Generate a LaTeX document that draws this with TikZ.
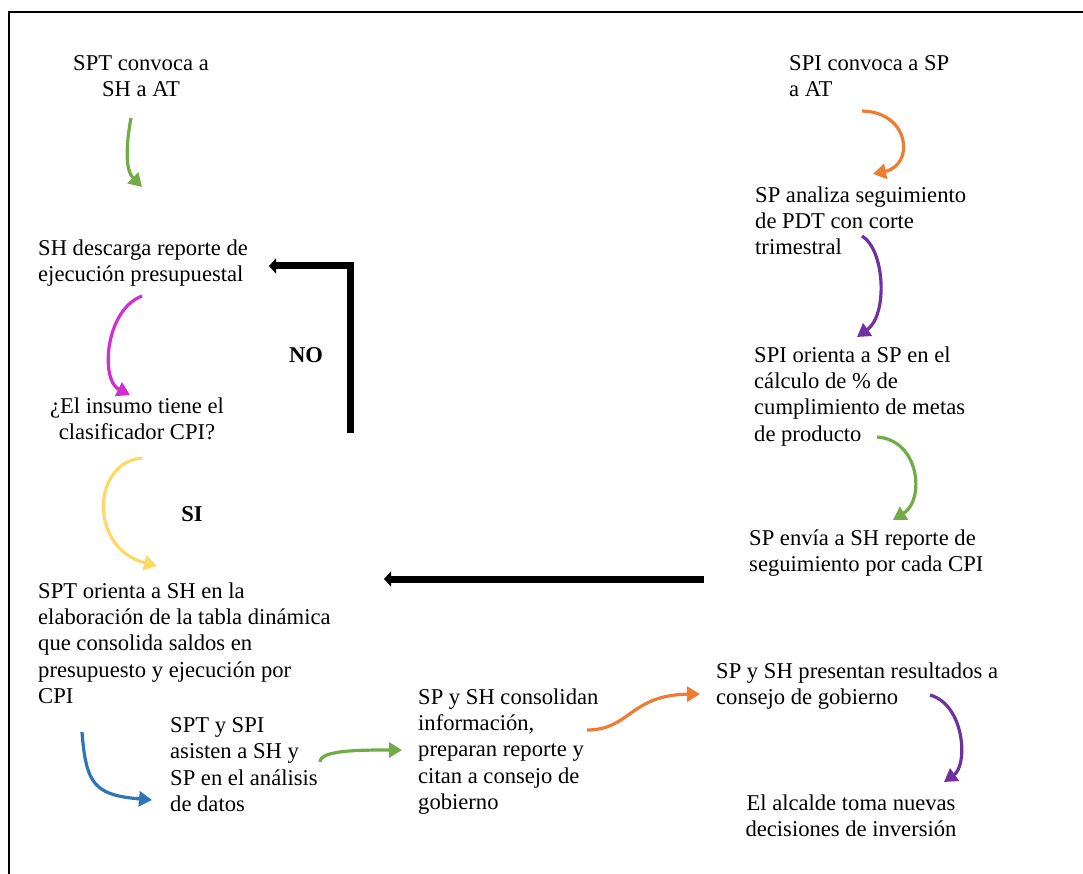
\documentclass[tikz,border=0pt]{standalone}
\usepackage{fontspec}
\setmainfont{Liberation Serif}
\usetikzlibrary{arrows.meta}
\definecolor{flowgreen}{RGB}{112,173,71}
\definecolor{flowmagenta}{RGB}{210,45,210}
\definecolor{flowyellow}{RGB}{255,217,102}
\definecolor{flowblue}{RGB}{46,117,182}
\definecolor{floworange}{RGB}{237,125,49}
\definecolor{flowpurple}{RGB}{112,48,160}

\begin{document}
\begin{tikzpicture}[
  x=1pt, y=-1pt,
  font=\fontsize{22.6}{26.2}\selectfont,
  txt/.style={inner sep=0pt, align=left, anchor=north west},
  ctxt/.style={inner sep=0pt, align=center, anchor=north},
  carr/.style={-{Triangle[length=13pt, width=15pt]}, draw=#1, line width=3.2pt},
  barr/.style={-{Triangle[length=7pt, width=15pt]}, draw=black, line width=7pt},
  lbl/.style={font=\fontsize{22.6}{26.2}\selectfont\bfseries, anchor=base}
]
\useasboundingbox (0,0) rectangle (1083,874);
\draw[line width=2pt] (9,874) -- (9,12) -- (1083,12);

% left column
\node[ctxt] (sptconv) at (141,55.6) {SPT convoca a\\SH a AT};
\node[txt] (shdesc) at (38,239.6) {SH descarga reporte de\\ejecución presupuestal};
\node[ctxt] (insumo) at (137,397.6) {¿El insumo tiene el\\clasificador CPI?};
\node[txt] (sptorient) at (38,582.6) {SPT orienta a SH en la\\elaboración de la tabla dinámica\\que consolida saldos en\\presupuesto y ejecución por\\CPI};
\node[lbl] (no) at (306,362) {NO};
\node[lbl] (si) at (192,521) {SI};

% bottom row
\node[txt] (asisten) at (170,717.6) {SPT y SPI\\asisten a SH y\\SP en el análisis\\de datos};
\node[txt] (consolidan) at (418,688.6) {SP y SH consolidan\\información,\\preparan reporte y\\citan a consejo de\\gobierno};
\node[txt] (presentan) at (716,662.6) {SP y SH presentan resultados a\\consejo de gobierno};
\node[ctxt] (alcalde) at (851,794.6) {El alcalde toma nuevas\\decisiones de inversión};

% right column
\node[txt] (spiconv) at (789,55.6) {SPI convoca a SP\\a AT};
\node[txt] (analiza) at (755,186.6) {SP analiza seguimiento\\de PDT con corte\\trimestral};
\node[txt] (spiorient) at (754,346.6) {SPI orienta a SP en el\\cálculo de \% de\\cumplimiento de metas\\de producto};
\node[txt] (envia) at (749,529.6) {SP envía a SH reporte de\\seguimiento por cada CPI};

% free ends of the connectors
\foreach \n/\x/\y in {g1s/131/118, g1e/142/187, m1s/142/296, m1e/130/395,
    y1s/142/458, y1e/157/566, b1s/82/732, b1e/152/800,
    g2s/320/762, g2e/402/750, o2s/587/730, o2e/700/694,
    p2s/930/695, p2e/944/782, o1s/862/111, o1e/873/174,
    p1s/862/236, p1e/857/337, g3s/877/437, g3e/893/520,
    nobot/350/433, notop/350/266, noend/269/266,
    backs/704/579, backe/384/579}
  \coordinate (\n) at (\x,\y);

\draw[carr=flowgreen] (g1s) .. controls (126,145) and (125,170) .. (g1e);
\draw[carr=flowmagenta] (m1s) .. controls (105,310) and (100,380) .. (m1e);
\draw[carr=flowyellow] (y1s) .. controls (92,462) and (88,548) .. (y1e);
\draw[carr=flowblue] (b1s) .. controls (86,785) and (95,795) .. (b1e);
\draw[carr=flowgreen] (g2s) .. controls (320,750) and (360,750) .. (g2e);
\draw[carr=floworange] (o2s) .. controls (630,730) and (630,695) .. (o2e);
\draw[carr=flowpurple] (p2s) .. controls (965,705) and (968,765) .. (p2e);
\draw[carr=floworange] (o1s) .. controls (910,112) and (915,165) .. (o1e);
\draw[carr=flowpurple] (p1s) .. controls (885,250) and (888,315) .. (p1e);
\draw[carr=flowgreen] (g3s) .. controls (920,440) and (925,500) .. (g3e);

\draw[barr] (nobot) -- (notop) -- (noend);
\draw[barr] (backs) -- (backe);
\end{tikzpicture}
\end{document}
